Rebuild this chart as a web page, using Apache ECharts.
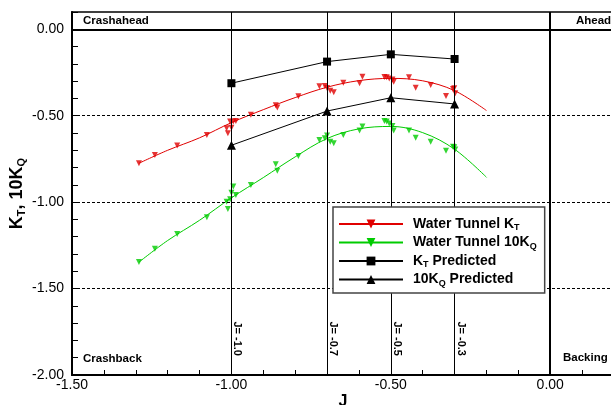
<!DOCTYPE html>
<html>
<head>
<meta charset="utf-8">
<script src="https://cdn.jsdelivr.net/npm/echarts@6/dist/echarts.min.js"></script>
<style>
  html, body { margin: 0; padding: 0; background: #fff; }
  #chart { width: 611px; height: 405px; }
</style>
</head>
<body>
<div id="chart"></div>
<script>
// Advance coefficient J at the four predicted operating points
const jPredicted = [-1.0, -0.7, -0.5, -0.3];
const ktPredicted = [-0.312, -0.187, -0.145, -0.172];
const kqPredicted = [-0.671, -0.473, -0.396, -0.432];

// Water tunnel measurements (J, KT, 10KQ)
const wtJ  = [-1.290, -1.240, -1.170, -1.077, -1.015, -1.011, -1.004, -1.000, -0.994, -0.986,
              -0.939, -0.861, -0.856, -0.790, -0.724, -0.707, -0.700, -0.690, -0.679, -0.649,
              -0.598, -0.589, -0.520, -0.513, -0.505, -0.495, -0.491, -0.443, -0.422, -0.375,
              -0.327, -0.305, -0.301, -0.298];
const wtKT = [-0.775, -0.727, -0.673, -0.611, -0.572, -0.601, -0.534, -0.570, -0.534, -0.530,
              -0.494, -0.440, -0.452, -0.388, -0.330, -0.328, -0.340, -0.355, -0.364, -0.309,
              -0.312, -0.274, -0.276, -0.278, -0.285, -0.291, -0.303, -0.278, -0.338, -0.322,
              -0.386, -0.345, -0.341, -0.370];
const wtKQ = [-1.347, -1.270, -1.184, -1.087, -0.998, -1.039, -0.983, -0.945, -0.910, -0.958,
              -0.901, -0.781, -0.818, -0.733, -0.640, -0.631, -0.615, -0.650, -0.659, -0.611,
              -0.586, -0.563, -0.530, -0.534, -0.545, -0.560, -0.586, -0.586, -0.627, -0.650,
              -0.702, -0.680, -0.683, -0.695];

// Curve fits through the water tunnel data
const fitJ  = [-1.29, -1.2, -1.1, -1.0, -0.9, -0.8, -0.7, -0.6, -0.5, -0.4, -0.3, -0.2];
const ktFit = [-0.775, -0.700, -0.628, -0.540, -0.465, -0.395, -0.335, -0.297, -0.284, -0.298, -0.355, -0.470];
const kqFit = [-1.347, -1.222, -1.105, -0.975, -0.858, -0.738, -0.632, -0.576, -0.562, -0.598, -0.694, -0.856];

// Reference lines
const dashedLevels = [-0.5, -1.0, -1.5];

const seriesNames = ['Water Tunnel KT', 'Water Tunnel 10KQ', 'KT Predicted', '10KQ Predicted'];
const legendText = {
  'Water Tunnel KT': 'Water Tunnel K{s|T}',
  'Water Tunnel 10KQ': 'Water Tunnel 10K{s|Q}',
  'KT Predicted': 'K{s|T} Predicted',
  '10KQ Predicted': '10K{s|Q} Predicted'
};

const FONT = '"Liberation Sans", Arial, Helvetica, sans-serif';
const RED = '#e00000';
const GREEN = '#00cc00';

const zip = (a, b) => a.map((v, i) => [v, b[i]]);
const isHalf = v => Math.abs(v * 2 - Math.round(v * 2)) < 1e-6;

const chart = echarts.init(document.getElementById('chart'), null, { renderer: 'canvas' });

const markLineData = []
  .concat(jPredicted.map(j => ({ xAxis: j, lineStyle: { color: '#000', width: 1, type: 'solid' } })))
  .concat([{ xAxis: 0, lineStyle: { color: '#000', width: 2, type: 'solid' } }])
  .concat([{ yAxis: 0, lineStyle: { color: '#000', width: 2, type: 'solid' } }])
  .concat(dashedLevels.map(y => ({ yAxis: y, lineStyle: { color: '#000', width: 1, type: [3, 2] } })));

const cornerLabels = [
  { type: 'text', left: 83, top: 15, z: 20, style: { text: 'Crashahead', font: 'bold 11.5px ' + FONT, fill: '#000' } },
  { type: 'text', left: 576, top: 15, z: 20, style: { text: 'Ahead', font: 'bold 11.5px ' + FONT, fill: '#000' } },
  { type: 'text', left: 83, top: 353, z: 20, style: { text: 'Crashback', font: 'bold 11.5px ' + FONT, fill: '#000' } },
  { type: 'text', left: 563, top: 352, z: 20, style: { text: 'Backing', font: 'bold 11.5px ' + FONT, fill: '#000' } }
];

chart.setOption({
  animation: false,
  backgroundColor: '#fff',
  grid: {
    left: 72, top: 12, right: -3, bottom: 30,
    containLabel: false, outerBoundsMode: 'none',
    show: true, borderColor: '#000', borderWidth: 1.5
  },
  legend: {
    orient: 'vertical',
    left: 333, top: 207,
    data: seriesNames,
    selectedMode: false,
    itemWidth: 64, itemHeight: 11, itemGap: 3,
    padding: [10, 8, 5, 5],
    borderColor: '#444', borderWidth: 1.5,
    backgroundColor: '#fff',
    formatter: n => legendText[n],
    textStyle: {
      fontFamily: FONT, fontSize: 14, fontWeight: 'bold', color: '#000',
      padding: [0, 0, 0, 5],
      rich: { s: { fontFamily: FONT, fontSize: 9, fontWeight: 'bold', color: '#000', padding: [8, 0, 0, 0] } }
    },
    z: 10
  },
  xAxis: {
    type: 'value', min: -1.5, max: 0.2, interval: 0.1,
    name: 'J', nameLocation: 'middle', nameGap: 19, nameMoveOverlap: false,
    nameTextStyle: { fontFamily: FONT, fontSize: 16, fontWeight: 'bold', color: '#000' },
    axisLine: { show: true, onZero: false, lineStyle: { color: '#000', width: 2 } },
    axisTick: { show: true, inside: true, length: 5, lineStyle: { color: '#000', width: 1 } },
    axisLabel: {
      interval: 0, margin: 3, fontFamily: FONT, fontSize: 14, color: '#000',
      formatter: v => isHalf(v) ? v.toFixed(2) : ''
    },
    splitLine: { show: false }
  },
  yAxis: {
    type: 'value', min: -2, max: 0.1, interval: 0.1,
    name: 'K{s|T}, 10K{s|Q}', nameLocation: 'middle', nameGap: 45, nameMoveOverlap: false,
    nameTextStyle: {
      fontFamily: FONT, fontSize: 18, fontWeight: 'bold', color: '#000',
      rich: { s: { fontFamily: FONT, fontSize: 11, fontWeight: 'bold', color: '#000', padding: [9, 0, 0, 0] } }
    },
    axisLine: { show: true, onZero: false, lineStyle: { color: '#000', width: 2 } },
    axisTick: { show: true, inside: true, length: 6, lineStyle: { color: '#000', width: 1 } },
    axisLabel: {
      interval: 0, margin: 8, fontFamily: FONT, fontSize: 14, color: '#000',
      formatter: v => isHalf(v) ? v.toFixed(2) : ''
    },
    splitLine: { show: false }
  },
  graphic: cornerLabels,
  series: [
    {
      name: 'reference lines', type: 'line', data: [], silent: true, z: 1,
      markLine: { silent: true, symbol: 'none', animation: false, label: { show: false }, data: markLineData }
    },
    {
      name: 'Water Tunnel KT', type: 'line', data: zip(fitJ, ktFit), smooth: 0.35,
      showSymbol: false, symbol: 'triangle', symbolRotate: 180, symbolSize: 7,
      itemStyle: { color: RED }, lineStyle: { color: RED, width: 1 }, z: 3
    },
    {
      name: 'wt-kt-points', type: 'scatter', data: zip(wtJ, wtKT),
      symbol: 'triangle', symbolRotate: 180, symbolSize: 6,
      itemStyle: { color: RED }, z: 4
    },
    {
      name: 'Water Tunnel 10KQ', type: 'line', data: zip(fitJ, kqFit), smooth: 0.35,
      showSymbol: false, symbol: 'triangle', symbolRotate: 180, symbolSize: 7,
      itemStyle: { color: GREEN }, lineStyle: { color: GREEN, width: 1 }, z: 3
    },
    {
      name: 'wt-kq-points', type: 'scatter', data: zip(wtJ, wtKQ),
      symbol: 'triangle', symbolRotate: 180, symbolSize: 6,
      itemStyle: { color: GREEN }, z: 4
    },
    {
      name: 'KT Predicted', type: 'line', data: zip(jPredicted, ktPredicted),
      symbol: 'rect', symbolSize: 8, showAllSymbol: true,
      itemStyle: { color: '#000' }, lineStyle: { color: '#000', width: 1 }, z: 5
    },
    {
      name: '10KQ Predicted', type: 'line', data: zip(jPredicted, kqPredicted),
      symbol: 'triangle', symbolSize: 9, showAllSymbol: true,
      itemStyle: { color: '#000' }, lineStyle: { color: '#000', width: 1 }, z: 5
    }
  ]
});

// Rotated "J= ..." tags beside each operating-point line, placed through the axis scales
const jTagLevel = -1.79;
const jTags = jPredicted.map(j => {
  const p = chart.convertToPixel({ gridIndex: 0 }, [j, jTagLevel]);
  return {
    type: 'text', x: p[0] + 6, y: p[1], rotation: -Math.PI / 2, z: 20,
    style: {
      text: 'J= ' + j.toFixed(1), font: 'bold 11px ' + FONT, fill: '#000',
      align: 'center', verticalAlign: 'middle'
    }
  };
});
chart.setOption({ graphic: cornerLabels.concat(jTags) });
</script>
</body>
</html>
